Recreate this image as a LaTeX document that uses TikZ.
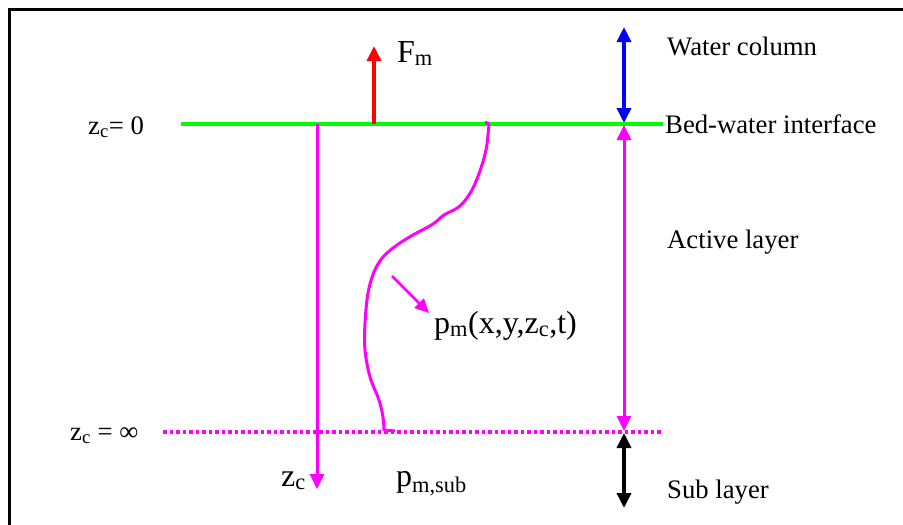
\documentclass[tikz,border=0pt]{standalone}
\usepackage{fontspec}
\setmainfont{Liberation Serif}
\usetikzlibrary{arrows.meta}
\definecolor{mag}{RGB}{255,0,255}
\definecolor{grn}{RGB}{0,255,0}
\definecolor{blu}{RGB}{0,0,255}
\definecolor{rd}{RGB}{255,0,0}
\newcommand{\sbs}[1]{\textsubscript{#1}}
\begin{document}
\begin{tikzpicture}[x=1pt,y=-1pt,
  tipone/.style={-{Triangle[length=15pt,width=14pt]}},
  tiptwo/.style={{Triangle[length=15pt,width=14pt]}-{Triangle[length=15pt,width=14pt]}},
  lbl/.style={font=\fontsize{26.7}{30}\selectfont, inner sep=0pt, anchor=base west},
  biglbl/.style={font=\fontsize{32}{36}\selectfont, inner sep=0pt, anchor=base west}]
\useasboundingbox (0,0) rectangle (903,525);
\draw[line width=3pt] (9,525) -- (9,9) -- (903,9);

% levels
\coordinate (gL) at (181,124);
\coordinate (gR) at (663,124);
\coordinate (dL) at (163,432);
\coordinate (dR) at (663,432);
\draw[grn, line width=3.5pt] (gL) -- (gR);
\draw[mag, line width=3.5pt, dash pattern=on 3.5pt off 3pt] (dL) -- (dR);

% labels
\node[lbl] (z0) at (88,134) {z\sbs{c}= 0};
\node[lbl] (zinf) at (70,440) {z\sbs{c} = ∞};
\node[biglbl] (fm) at (397,62) {F\sbs{m}};
\node[lbl] (wc) at (667,55) {Water column};
\node[lbl] (bwi) at (665,133) {Bed-water interface};
\node[lbl] (al) at (667,248) {Active layer};
\node[biglbl] (pm) at (434,333) {p\sbs{m}(x,y,z\sbs{c},t)};
\node[biglbl] (zc) at (281,486) {z\sbs{c}};
\node[biglbl] (pms) at (396,486) {p\sbs{m,sub}};
\node[lbl] (sl) at (667,498) {Sub layer};

% red force arrow
\coordinate (fa) at (374,124);
\coordinate (fb) at (374,46);
\draw[rd, line width=3.5pt, tipone] (fa) -- (fb);

% vertical axis
\coordinate (va) at (317,124);
\coordinate (vb) at (317,489);
\draw[mag, line width=3pt, tipone] (va) -- (vb);

% right-hand extents
\coordinate (w1) at (624,27);
\coordinate (w2) at (624,123);
\coordinate (a1) at (624,125);
\coordinate (a2) at (624,431);
\coordinate (s1) at (624,433);
\coordinate (s2) at (624,508);
\draw[blu, line width=3.5pt, tiptwo] (w1) -- (w2);
\draw[mag, line width=3pt, tiptwo] (a1) -- (a2);
\draw[black, line width=3.5pt, tiptwo] (s1) -- (s2);

% profile curve
\draw[mag, line width=3pt, line join=round] (485,122) -- (489,124)
  plot[smooth, tension=0.55] coordinates {(489,124) (488,135) (486,150) (481,168) (472,190) (460,206) (444,215) (433,224) (413,235) (397,245) (383,257) (374,272) (368,293) (365,323) (365,350) (370,377) (379,400) (383,417) (384,430)}
  -- (395,431);

% pointer
\coordinate (p1) at (392,276);
\coordinate (p2) at (429,313);
\draw[mag, line width=2.5pt, {-Triangle[length=14pt,width=13pt]}] (p1) -- (p2);
\end{tikzpicture}
\end{document}
